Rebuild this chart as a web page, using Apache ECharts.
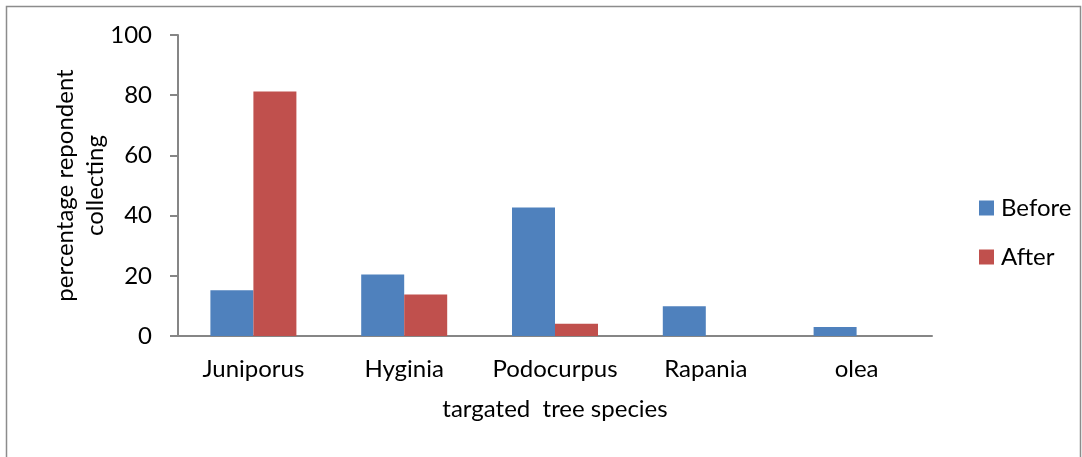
<!DOCTYPE html>
<html>
<head>
<meta charset="utf-8">
<script src="https://cdn.jsdelivr.net/npm/echarts@6/dist/echarts.min.js"></script>
<style>
  html, body { margin: 0; padding: 0; background: #fff; }
  #main { width: 1082px; height: 457px; }
</style>
</head>
<body>
<div id="main"></div>
<script>
var species = ['Juniporus', 'Hyginia', 'Podocurpus', 'Rapania', 'olea'];
var before = [15.2, 20.4, 42.7, 9.9, 3.0];
var after = [81.2, 13.8, 4.1, 0, 0];

var myChart = echarts.init(document.getElementById('main'));
var font = 'Lato, "Open Sans", sans-serif';

var option = {
    animation: false,
    textStyle: { fontFamily: font },
    graphic: [
        {
            type: 'rect',
            shape: { x: 6.5, y: 6.5, width: 1074, height: 470 },
            style: { fill: 'none', stroke: '#8c8c8c', lineWidth: 1.5 }
        }
    ],
    grid: { left: 178, right: 150, top: 35, bottom: 121 },
    legend: {
        orient: 'vertical',
        left: 974,
        top: 191,
        itemWidth: 15,
        itemHeight: 15,
        itemGap: 25,
        icon: 'rect',
        textStyle: { fontSize: 24, color: '#000', fontFamily: font, padding: [0, 0, 0, 2] },
        data: ['Before', 'After']
    },
    xAxis: {
        type: 'category',
        data: species,
        name: 'targated  tree species',
        nameLocation: 'middle',
        nameGap: 61,
        nameTextStyle: { fontSize: 24, color: '#000', fontFamily: font },
        axisLine: { lineStyle: { color: '#868686', width: 2 } },
        axisTick: { show: false },
        axisLabel: { interval: 0, fontSize: 24, color: '#000', margin: 21, fontFamily: font }
    },
    yAxis: {
        type: 'value',
        min: 0,
        max: 100,
        interval: 20,
        name: 'percentage repondent\ncollecting',
        nameLocation: 'middle',
        nameGap: 68,
        nameMoveOverlap: false,
        nameRotate: 90,
        nameTextStyle: { fontSize: 24, color: '#000', lineHeight: 30, fontFamily: font },
        axisLine: { show: true, lineStyle: { color: '#868686', width: 2 } },
        axisTick: { show: true, length: 8, lineStyle: { color: '#868686', width: 2 } },
        splitLine: { show: false },
        axisLabel: { fontSize: 24, color: '#000', margin: 26, fontFamily: font }
    },
    series: [
        {
            name: 'Before',
            type: 'bar',
            data: before,
            barWidth: 43,
            barGap: '0%',
            itemStyle: { color: '#4F81BD' }
        },
        {
            name: 'After',
            type: 'bar',
            data: after,
            barWidth: 43,
            itemStyle: { color: '#C0504D' }
        }
    ]
};

myChart.setOption(option);
</script>
</body>
</html>
